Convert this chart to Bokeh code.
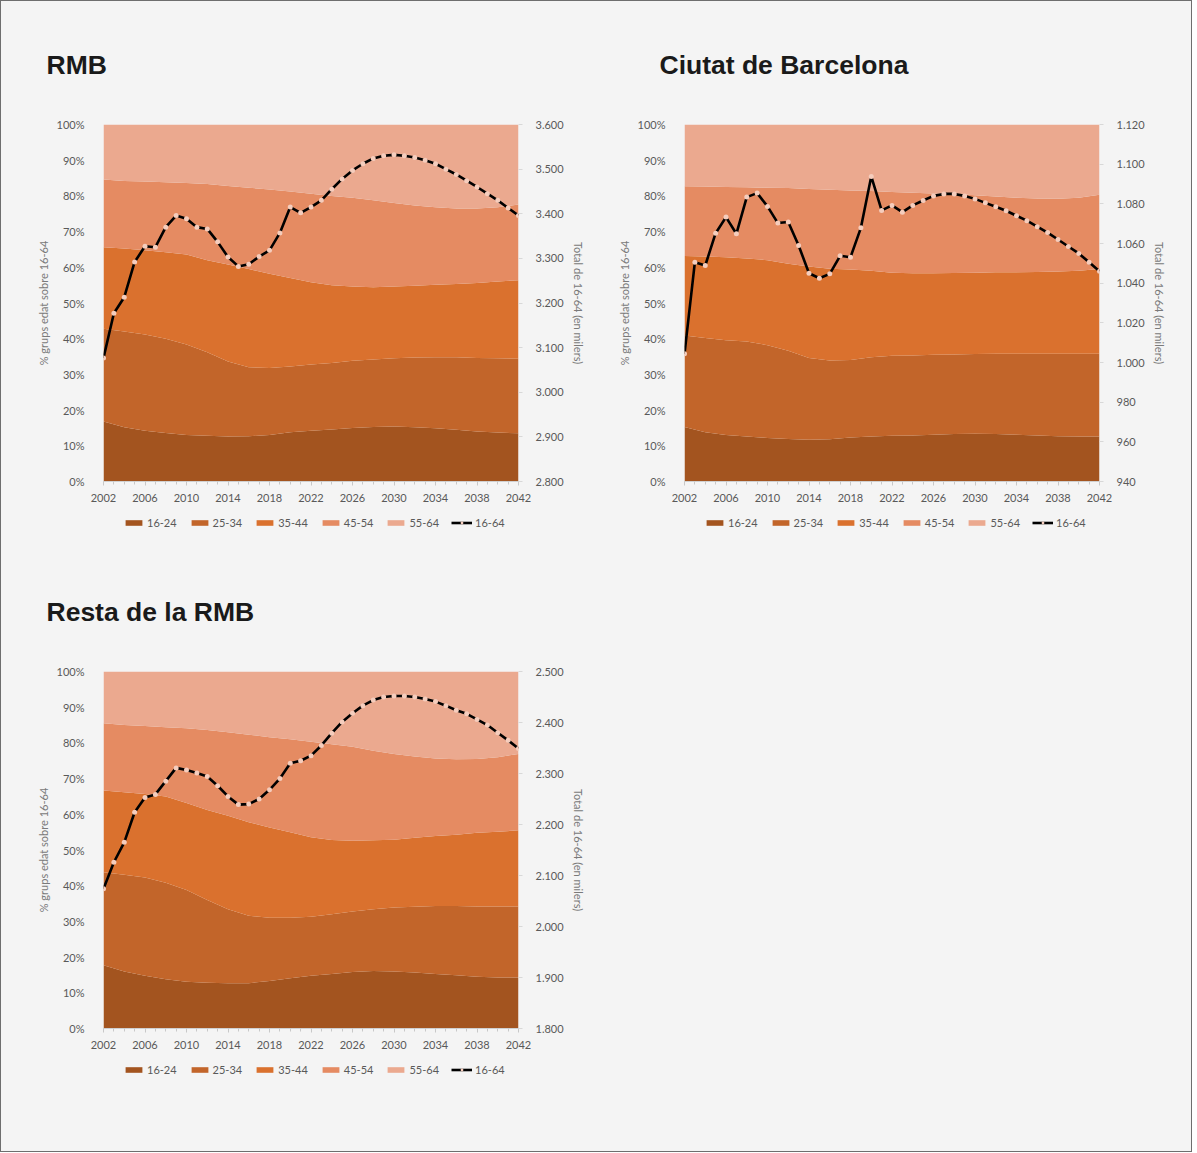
from bokeh.plotting import figure
from bokeh.models import (Range1d, LinearAxis, FixedTicker, CustomJSTickFormatter,
                          PrintfTickFormatter, Legend, LegendItem, ColumnDataSource)
from bokeh.layouts import column, row
from bokeh.embed import file_html
from bokeh.resources import INLINE

# ---------------- data ----------------
groups = ["16-24", "25-34", "35-44", "45-54", "55-64"]
total_label = "16-64"
group_colors = ["#a3541f", "#c2652a", "#da712e", "#e58b62", "#eba98f"]

area_years = [2002, 2004, 2006, 2008, 2010, 2012, 2014, 2016, 2018, 2020, 2022,
              2024, 2026, 2028, 2030, 2032, 2034, 2036, 2038, 2040, 2042]
line_years = list(range(2002, 2043))
x_ticks = list(range(2002, 2043, 4))

# RMB shares (%) by age group
rmb_16_24 = [16.8, 15.2, 14.2, 13.6, 13.0, 12.8, 12.6, 12.7, 13.0, 13.8, 14.2, 14.6, 15.0, 15.3, 15.4, 15.2, 14.9, 14.5, 14.0, 13.7, 13.5]
rmb_25_34 = [26.0, 26.8, 27.0, 26.4, 25.4, 23.4, 21.0, 19.3, 18.8, 18.4, 18.6, 18.6, 18.8, 18.9, 19.1, 19.5, 19.9, 20.3, 20.6, 20.8, 20.9]
rmb_35_44 = [22.8, 23.3, 23.6, 24.2, 25.2, 25.8, 27.2, 27.5, 26.4, 24.8, 23.0, 21.8, 20.8, 20.2, 20.1, 20.1, 20.3, 20.5, 21.0, 21.5, 22.0]
rmb_45_54 = [19.0, 18.9, 19.2, 19.6, 20.0, 21.3, 22.0, 22.8, 23.6, 24.2, 24.8, 25.0, 24.9, 24.4, 23.4, 22.5, 21.7, 21.2, 20.9, 20.8, 21.2]
rmb_55_64 = [15.4, 15.8, 16.0, 16.2, 16.4, 16.7, 17.2, 17.7, 18.2, 18.8, 19.4, 20.0, 20.5, 21.2, 22.0, 22.7, 23.2, 23.5, 23.5, 23.2, 22.4]
rmb_total = [3077, 3177, 3213, 3292, 3327, 3325, 3370, 3396, 3389, 3370, 3366, 3337, 3303, 3282, 3287, 3304, 3318, 3357, 3415, 3402,
             3415, 3430, 3455, 3478, 3497, 3512, 3524, 3530, 3532, 3530, 3526, 3520, 3512, 3500, 3488, 3474, 3460, 3445, 3430, 3413, 3396]
rmb_right_ticks = [2800, 2900, 3000, 3100, 3200, 3300, 3400, 3500, 3600]

# Ciutat de Barcelona shares (%)
bcn_16_24 = [15.3, 13.8, 13.0, 12.6, 12.2, 11.9, 11.7, 11.8, 12.3, 12.6, 12.8, 12.9, 13.1, 13.3, 13.4, 13.3, 13.1, 12.9, 12.7, 12.6, 12.6]
bcn_25_34 = [25.6, 26.4, 26.6, 26.6, 26.0, 24.7, 22.9, 22.1, 21.7, 22.2, 22.4, 22.4, 22.4, 22.3, 22.3, 22.5, 22.7, 22.9, 23.1, 23.2, 23.2]
bcn_35_44 = [22.3, 22.8, 23.2, 23.3, 23.8, 24.4, 25.6, 25.7, 25.4, 24.2, 23.3, 23.0, 22.8, 22.8, 22.8, 22.8, 22.8, 22.9, 23.0, 23.2, 23.7]
bcn_45_54 = [19.5, 19.6, 19.7, 19.9, 20.3, 21.2, 21.7, 22.1, 22.1, 22.4, 22.6, 22.6, 22.4, 22.1, 21.7, 21.2, 20.9, 20.6, 20.4, 20.5, 20.8]
bcn_55_64 = [17.3, 17.4, 17.5, 17.6, 17.7, 17.8, 18.1, 18.3, 18.5, 18.6, 18.9, 19.1, 19.3, 19.5, 19.8, 20.2, 20.5, 20.7, 20.8, 20.5, 19.7]
bcn_total = [1004.4, 1050.6, 1048.9, 1065.2, 1073.3, 1064.9, 1083.4, 1085.4, 1078.7, 1070.3, 1070.8, 1059.0, 1045.0, 1042.5, 1044.7,
             1053.8, 1053.1, 1067.9, 1093.8, 1076.7, 1079.2, 1075.8, 1079.2, 1081.7, 1084.0, 1085.0, 1085.0, 1084.0, 1082.5, 1080.5,
             1078.5, 1076.5, 1074.0, 1071.5, 1068.5, 1065.5, 1062.0, 1058.5, 1055.0, 1050.5, 1046.0]
bcn_right_ticks = [940, 960, 980, 1000, 1020, 1040, 1060, 1080, 1100, 1120]

# Resta de la RMB shares (%)
res_16_24 = [17.7, 16.0, 14.8, 13.8, 13.1, 12.8, 12.7, 12.7, 13.3, 14.1, 14.8, 15.3, 15.8, 16.1, 16.0, 15.7, 15.3, 14.9, 14.5, 14.3, 14.3]
res_25_34 = [26.1, 27.1, 27.5, 27.0, 25.7, 23.2, 20.7, 18.9, 17.7, 16.9, 16.5, 16.7, 17.0, 17.3, 17.9, 18.4, 19.0, 19.4, 19.7, 19.9, 19.9]
res_35_44 = [22.9, 23.1, 23.4, 24.2, 24.4, 25.2, 26.2, 26.2, 25.3, 24.0, 22.3, 20.8, 19.8, 19.3, 19.0, 19.3, 19.6, 20.0, 20.6, 20.9, 21.3]
res_45_54 = [18.8, 18.8, 19.0, 19.4, 20.9, 22.4, 23.4, 24.5, 25.3, 26.0, 26.7, 26.8, 26.3, 25.1, 24.0, 22.8, 21.7, 21.1, 20.7, 20.9, 21.4]
res_55_64 = [14.5, 15.0, 15.3, 15.6, 15.9, 16.4, 17.0, 17.7, 18.4, 19.0, 19.7, 20.4, 21.1, 22.2, 23.1, 23.8, 24.4, 24.6, 24.5, 24.0, 23.1]
res_total = [2074, 2126, 2165, 2224, 2253, 2259, 2285, 2311, 2307, 2301, 2294, 2276, 2255, 2239, 2240, 2250, 2268, 2290, 2320, 2325,
             2335, 2355, 2379, 2401, 2418, 2433, 2444, 2450, 2452, 2452, 2450, 2446, 2441, 2433, 2424, 2417, 2406, 2395, 2380, 2365, 2349]
res_right_ticks = [1800, 1900, 2000, 2100, 2200, 2300, 2400, 2500]

pct_ticks = [0, 10, 20, 30, 40, 50, 60, 70, 80, 90, 100]

titles = ["RMB", "Ciutat de Barcelona", "Resta de la RMB"]
left_axis_title = "% grups edat sobre 16-64"
right_axis_title = "Total de 16-64 (en milers)"

# ---------------- style ----------------
BG = "#f4f4f4"
TXT = "#595959"
FONT = "Lato"
TICKFS = "11px"
LINE_W = 2.6
MARK_SIZE = 5
MARK_COLOR = "#f5cdbd"


def make_chart(title, shares, total, right_ticks, b_left, b_right, b_top, title_offset):
    p = figure(frame_width=415, frame_height=357, output_backend="svg", toolbar_location=None,
               x_range=Range1d(area_years[0], area_years[-1]), y_range=Range1d(0, 100),
               min_border_left=b_left, min_border_right=b_right, min_border_top=b_top,
               min_border_bottom=34, background_fill_color=BG, border_fill_color=BG)
    p.outline_line_color = None
    p.grid.visible = False

    p.title.text = title
    p.title.text_font = "Liberation Sans"
    p.title.text_font_size = "26.5px"
    p.title.text_font_style = "bold"
    p.title.text_color = "#1a1a1a"
    p.title.align = "left"
    p.title.offset = title_offset
    p.title.standoff = 90

    src = ColumnDataSource(dict(year=area_years, **{g: s for g, s in zip(groups, shares)}))
    p.varea_stack(stackers=groups, x="year", source=src, color=group_colors)

    p.extra_y_ranges = {"tot": Range1d(right_ticks[0], right_ticks[-1])}
    lsrc = ColumnDataSource(dict(year=line_years, total=total))
    p.line("year", "total", source=lsrc, y_range_name="tot", line_color="black", line_width=LINE_W)
    p.scatter("year", "total", source=lsrc, y_range_name="tot", size=MARK_SIZE,
              fill_color=MARK_COLOR, line_color=None)

    # x axis
    xa = p.xaxis[0]
    xa.ticker = FixedTicker(ticks=x_ticks, minor_ticks=line_years)
    xa.axis_line_color = "#d0d0d0"
    xa.major_tick_line_color = "#c8c8c8"
    xa.minor_tick_line_color = "#c8c8c8"
    xa.major_tick_out = 4
    xa.major_tick_in = 0
    xa.minor_tick_out = 3
    xa.minor_tick_in = 0
    xa.major_label_standoff = 8
    xa.major_label_text_font = FONT
    xa.major_label_text_font_size = TICKFS
    xa.major_label_text_color = TXT

    # left axis
    ya = p.yaxis[0]
    ya.ticker = FixedTicker(ticks=pct_ticks)
    ya.formatter = PrintfTickFormatter(format="%d%%")
    ya.axis_line_color = None
    ya.major_tick_line_color = None
    ya.minor_tick_line_color = None
    ya.major_label_standoff = 13
    ya.major_label_text_font = FONT
    ya.major_label_text_font_size = TICKFS
    ya.major_label_text_color = TXT
    ya.axis_label = left_axis_title
    ya.axis_label_text_font = FONT
    ya.axis_label_text_font_size = "11px"
    ya.axis_label_text_font_style = "normal"
    ya.axis_label_text_color = "#7a7a7a"
    ya.axis_label_standoff = 4

    # right axis
    ra = LinearAxis(y_range_name="tot", ticker=FixedTicker(ticks=right_ticks),
                    formatter=CustomJSTickFormatter(
                        code='return tick.toFixed(0).replace(/\\B(?=(\\d{3})+(?!\\d))/g, ".");'))
    ra.axis_line_color = None
    ra.major_tick_line_color = "#d8d8d8"
    ra.major_tick_out = 4
    ra.major_tick_in = 0
    ra.minor_tick_line_color = None
    ra.major_label_standoff = 13
    ra.major_label_text_font = FONT
    ra.major_label_text_font_size = TICKFS
    ra.major_label_text_color = TXT
    ra.axis_label = right_axis_title
    ra.axis_label_text_font = FONT
    ra.axis_label_text_font_size = "11px"
    ra.axis_label_text_font_style = "normal"
    ra.axis_label_text_color = "#7a7a7a"
    ra.axis_label_standoff = 5
    p.add_layout(ra, "right")
    return p


def make_legend(b_left, b_right, height, legend_y):
    # legend strip below a chart; proxy glyphs sit outside the visible 0..1 range
    q = figure(frame_width=415, frame_height=height, output_backend="svg", toolbar_location=None,
               x_range=Range1d(0, 1), y_range=Range1d(0, 1), title=None,
               x_axis_location=None, y_axis_location=None,
               min_border_left=b_left, min_border_right=b_right, min_border_top=0,
               min_border_bottom=0, background_fill_color=BG, border_fill_color=BG)
    q.outline_line_color = None
    q.grid.visible = False
    items = []
    for g, c in zip(groups, group_colors):
        r = q.varea(x=[5, 6], y1=[5, 5], y2=[6, 6], fill_color=c)
        items.append(LegendItem(label=g, renderers=[r]))
    ln = q.line(x=[5, 6], y=[5, 5], line_color="black", line_width=LINE_W)
    mk = q.scatter(x=[5], y=[5], size=MARK_SIZE, fill_color=MARK_COLOR, line_color=None)
    items.append(LegendItem(label=total_label, renderers=[ln, mk]))
    leg = Legend(items=items, orientation="horizontal", location=(20, legend_y),
                 glyph_width=21, glyph_height=7, label_standoff=3, spacing=12,
                 padding=0, margin=0, label_height=12,
                 label_text_font=FONT, label_text_font_size=TICKFS, label_text_color=TXT,
                 background_fill_alpha=0, border_line_color=None)
    q.add_layout(leg, "center")
    return q


f1 = make_chart(titles[0], [rmb_16_24, rmb_25_34, rmb_35_44, rmb_45_54, rmb_55_64], rmb_total,
                rmb_right_ticks, 102, 82, 123, -57)
l1 = make_legend(102, 82, 34, 20)
f2 = make_chart(titles[1], [bcn_16_24, bcn_25_34, bcn_35_44, bcn_45_54, bcn_55_64], bcn_total,
                bcn_right_ticks, 84, 92, 123, -25)
l2 = make_legend(84, 92, 34, 20)
f3 = make_chart(titles[2], [res_16_24, res_25_34, res_35_44, res_45_54, res_55_64], res_total,
                res_right_ticks, 102, 82, 122, -57)
l3 = make_legend(102, 82, 89, 75)

layout = column(row(column(f1, l1), column(f2, l2)), row(column(f3, l3)),
                styles={"background-color": BG, "border": "1px solid #6e6e6e"})

open("out.html", "w").write(file_html(layout, INLINE))
